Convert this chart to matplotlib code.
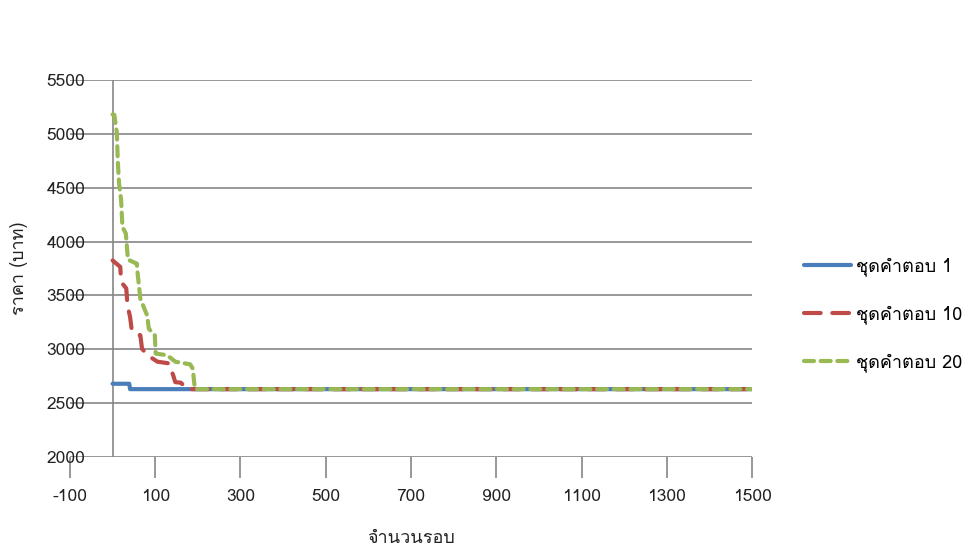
import matplotlib
matplotlib.use('Agg')
import matplotlib.pyplot as plt
from matplotlib import font_manager
from matplotlib.ft2font import FT2Font

# look for an installed family that has Thai glyphs
thai_fams = []
for f in font_manager.fontManager.ttflist:
    try:
        cmap = FT2Font(f.fname).get_charmap()
    except Exception:
        continue
    if 0x0E0A in cmap and 0x0E14 in cmap and f.name not in thai_fams:
        thai_fams.append(f.name)

plt.rcParams['font.family'] = thai_fams + ['DejaVu Sans']
plt.rcParams['axes.unicode_minus'] = False

# รอบ / ราคา ของแต่ละชุดคำตอบ
x_sol1 = [0, 39, 41, 1500]
y_sol1 = [2680, 2680, 2630, 2630]

x_sol10 = [0, 18, 20, 32, 35, 41, 45, 65, 69, 82, 105, 131, 142, 147, 160, 175, 1500]
y_sol10 = [3825, 3765, 3625, 3565, 3405, 3300, 3175, 3130, 3005, 2945, 2885, 2870, 2760, 2695, 2690, 2630, 2630]

x_sol20 = [0, 4, 10, 12, 15, 20, 23, 31, 36, 40, 57, 58, 65, 81, 85, 99, 101, 128, 147, 182, 188, 193, 1500]
y_sol20 = [5180, 5177, 5006, 4758, 4541, 4385, 4137, 4075, 3830, 3825, 3795, 3730, 3470, 3315, 3190, 3130, 2960, 2945, 2885, 2860, 2820, 2630, 2630]

labels = ['ชุดคำตอบ 1', 'ชุดคำตอบ 10', 'ชุดคำตอบ 20']
xticks = list(range(-100, 1501, 200))
yticks = list(range(2000, 5501, 500))

fig = plt.figure(figsize=(9.68, 5.53), dpi=100)
ax = fig.add_axes([0.0723, 0.1736, 0.7046, 0.6817])

grid_c = '#868686'
for yv in yticks:
    ax.axhline(yv, color=grid_c, lw=1.2, zorder=1)
ax.axvline(0, color=grid_c, lw=1.2, zorder=1)

ax.plot(x_sol1, y_sol1, color='#4A7EBB', lw=3, label=labels[0], zorder=3,
        solid_capstyle='round')
ax.plot(x_sol10, y_sol10, color='#BE4B48', lw=3, label=labels[1], zorder=4,
        dashes=(4, 2.8), dash_capstyle='round')
ax.plot(x_sol20, y_sol20, color='#98B954', lw=3, label=labels[2], zorder=5,
        dashes=(2.4, 1.6), dash_capstyle='round')

ax.set_xlim(-100, 1500)
ax.set_ylim(2000, 5500)
ax.set_xticks(xticks)
ax.set_yticks(yticks)
for s in ['top', 'right', 'left', 'bottom']:
    ax.spines[s].set_visible(False)
ax.tick_params(axis='x', length=15, width=1.2, color=grid_c, pad=8,
               labelsize=12.5, labelcolor='#222222')
ax.tick_params(axis='y', length=0, pad=-11, labelsize=12.5, labelcolor='#222222')

ax.set_xlabel('จำนวนรอบ', fontsize=13, labelpad=17, color='#222222')
ax.set_ylabel('ราคา (บาท)', fontsize=13, labelpad=13, color='#222222')

ax.legend(loc='center left', bbox_to_anchor=(1.052, 0.377), frameon=False,
          fontsize=13, handlelength=2.6, labelspacing=1.62, handletextpad=0.3)

fig.savefig('out.png', dpi=100)
